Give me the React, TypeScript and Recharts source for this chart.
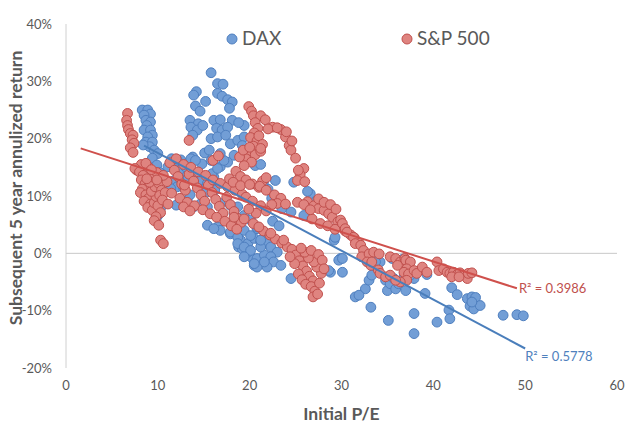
import React from "react";
import {
  ScatterChart,
  Scatter,
  XAxis,
  YAxis,
  ReferenceLine,
  ReferenceDot,
  Legend,
} from "recharts";

type Pt = [number, number];

const xTicks = [0, 10, 20, 30, 40, 50, 60];
const yTicks = [-20, -10, 0, 10, 20, 30, 40];

// DAX: initial P/E vs subsequent 5y return (%)
const daxLeft: Pt[] = [
  [8.3, 25.0], [8.9, 25.0], [9.2, 24.3], [8.5, 24.1], [8.7, 23.2], [9.2, 22.9], [8.8, 22.3],
  [8.5, 21.5], [9.2, 21.5], [9.4, 20.6], [8.9, 20.3], [8.7, 19.4], [9.4, 19.4], [9.1, 18.6],
  [9.6, 18.0], [10.0, 17.4], [8.4, 18.9], [9.4, 16.6], [9.9, 15.4], [10.2, 14.1], [10.0, 6.6],
  [9.8, 5.8], [9.8, 11.5], [10.1, 9.2], [10.3, 7.9],
];
const daxMid: Pt[] = [
  [11.1, 15.1], [11.8, 15.4], [12.5, 14.5], [13.2, 13.6], [11.8, 12.7], [12.1, 11.6], [13.9, 13.9],
  [14.7, 12.7], [15.4, 12.2], [16.1, 13.3], [16.8, 15.1], [17.6, 15.9], [11.4, 11.3], [12.0, 8.4],
  [13.2, 9.2], [13.9, 8.1], [14.7, 8.7], [11.5, 16.5], [12.5, 16.3], [13.0, 15.1], [13.3, 13.2],
  [12.8, 11.5], [13.5, 10.2], [14.6, 11.2], [15.2, 10.6], [15.7, 12.4], [16.2, 11.0], [15.9, 13.9],
  [16.5, 14.8], [14.8, 15.6], [13.8, 16.8], [15.1, 17.5], [12.1, 16.2], [13.6, 16.5], [14.1, 16.2],
  [15.8, 16.2], [17.2, 16.2], [16.8, 17.4], [15.6, 18.0],
];
const daxTop: Pt[] = [
  [15.8, 31.5], [16.5, 29.6], [17.1, 29.5], [14.2, 28.2], [13.9, 27.6], [15.2, 26.5], [16.5, 27.9],
  [17.0, 27.4], [17.6, 26.8], [18.1, 26.4], [14.1, 25.7], [14.6, 24.8], [17.8, 25.3], [13.5, 23.2],
  [14.4, 22.6], [13.6, 22.0], [14.3, 21.5], [14.9, 22.3], [16.1, 23.2], [16.8, 23.3], [18.1, 23.2],
  [16.4, 21.8], [17.0, 21.5], [17.6, 22.0], [15.8, 20.0], [16.5, 20.3], [17.4, 20.6], [19.4, 22.3],
  [17.9, 19.1], [18.7, 19.7], [19.4, 20.3], [19.2, 18.8], [18.3, 17.1], [13.8, 20.6], [19.6, 17.1],
  [20.6, 15.3], [21.2, 15.5], [20.4, 19.8], [18.8, 22.8],
];
const daxCore: Pt[] = [
  [15.4, 4.9], [16.5, 4.6], [16.8, 4.0], [17.9, 3.4], [18.7, 3.1], [19.0, 2.3], [19.8, 1.7],
  [20.5, 2.6], [21.2, 2.0], [21.9, 1.7], [22.3, 1.1], [23.0, 0.2], [20.1, -0.6], [20.8, -0.9],
  [21.6, -0.3], [22.3, -0.6], [22.6, -1.5], [23.4, -2.1], [20.5, -2.1], [21.9, -2.4], [19.4, 6.6],
  [19.0, 5.8], [20.1, 5.8], [20.8, 4.3], [21.7, 3.4], [18.3, 6.9], [18.8, 1.1], [19.2, 0.8],
  [21.2, 1.1], [19.8, 0.2], [20.8, -2.4], [16.8, 8.7], [17.9, 8.4], [18.7, 8.1], [17.9, 3.7],
  [18.7, 2.8], [19.4, 4.0], [20.1, 3.1], [20.8, 4.6], [21.6, 3.7], [18.7, 1.7], [19.4, 1.1],
  [20.1, 0.5], [19.4, -0.6], [20.5, -1.8], [21.6, -1.5], [21.2, 2.3], [15.4, 8.1], [16.1, 4.3],
  [22.4, 9.6], [23.1, 8.9], [23.5, 7.8], [22.0, 11.2], [21.5, 12.4], [22.8, 12.7], [22.5, 5.6],
  [23.2, 4.8],
];
const daxRight: Pt[] = [
  [24.5, 7.2], [25.9, 6.6], [26.6, 10.4], [24.8, 12.4], [26.3, 10.8], [27.2, 9.0], [27.9, 8.2],
  [29.2, 2.3], [29.3, 2.8], [29.9, -0.9], [28.8, -3.3], [30.1, -3.3], [24.5, -4.4], [29.7, -1.2],
  [28.6, -3.0], [32.6, -6.2], [31.5, -7.6], [31.9, -7.3], [33.2, -9.4], [33.0, -4.7], [33.3, -3.8],
  [35.0, -6.5], [34.8, -4.7], [35.3, -5.3], [35.9, -6.2], [36.2, -5.3], [37.0, -6.5], [35.7, -4.4],
  [36.8, -4.1], [37.9, -4.4], [37.5, -3.8], [39.1, -7.0], [39.3, -3.7], [35.1, -11.7], [37.9, -10.5],
  [37.9, -14.0], [40.4, -12.0], [41.7, -9.9], [41.8, -11.4], [42.0, -6.0], [42.6, -7.2], [43.7, -7.9],
  [44.2, -7.6], [44.6, -7.7], [44.0, -9.2], [44.4, -9.7], [45.1, -9.1], [44.2, -8.5], [47.6, -10.8],
  [49.1, -10.7], [49.8, -10.9], [34.2, -1.5], [33.7, -1.5], [35.5, -0.9], [36.7, -1.0], [30.1, -0.9],
];

// S&P 500
const spLeft: Pt[] = [
  [6.7, 24.4], [6.6, 23.2], [6.7, 22.3], [6.8, 21.6], [7.0, 20.9], [7.3, 20.6], [7.2, 19.8],
  [7.4, 19.2], [7.0, 18.4], [7.3, 17.6], [8.2, 15.5], [7.7, 14.5], [7.5, 14.8], [8.0, 14.2],
  [8.4, 13.6], [8.2, 12.8], [8.6, 12.1], [8.9, 11.5], [8.3, 11.2], [8.1, 10.6], [8.7, 10.2],
  [9.0, 9.6], [8.5, 9.1], [9.2, 8.6], [8.9, 8.0], [9.4, 7.5], [9.6, 8.8], [9.8, 9.9], [9.3, 10.8],
  [9.7, 11.6], [9.1, 12.4], [9.5, 13.3], [9.9, 14.1], [9.0, 15.0], [8.7, 15.7], [10.1, 12.2],
  [10.4, 11.0], [10.2, 10.1], [10.0, 8.3], [10.3, 7.1], [9.8, 6.4], [9.6, 5.7], [10.1, 4.9],
  [10.3, 2.3], [10.6, 1.7], [10.8, 10.6], [11.0, 12.5], [10.6, 13.6], [10.5, 9.3], [9.3, 14.6],
  [8.8, 13.0], [9.9, 12.8],
];
const spMid: Pt[] = [
  [11.3, 15.8], [11.8, 14.5], [12.2, 13.4], [12.6, 12.1], [13.0, 11.0], [13.4, 13.8], [13.9, 12.6],
  [14.3, 11.4], [14.7, 10.2], [15.1, 9.1], [15.5, 11.9], [15.9, 10.6], [16.3, 9.4], [16.7, 8.2],
  [17.1, 7.0], [17.5, 9.8], [17.9, 8.5], [18.3, 7.3], [18.7, 6.1], [19.1, 5.4], [12.0, 16.5],
  [12.8, 15.5], [13.6, 15.0], [14.4, 14.2], [15.2, 13.6], [16.0, 12.8], [16.8, 12.2], [17.6, 11.6],
  [18.4, 11.0], [19.2, 10.3], [11.5, 10.5], [12.4, 9.6], [13.2, 8.9], [14.0, 8.3], [16.0, 16.2],
  [16.6, 17.0], [13.4, 19.7], [12.9, 11.9], [11.1, 8.6], [14.9, 7.6], [15.7, 6.9], [16.4, 6.3],
  [17.3, 5.6], [18.0, 4.8], [18.6, 4.2], [12.8, 8.1], [13.5, 7.4],
];
const spPeak: Pt[] = [
  [19.9, 25.6], [20.2, 24.8], [20.4, 24.0], [21.2, 24.0], [21.7, 23.3], [20.6, 22.8], [20.9, 21.8],
  [20.5, 21.0], [20.1, 20.2], [20.8, 19.6], [20.4, 18.7], [19.9, 17.9], [20.6, 17.2], [19.6, 16.5],
  [20.2, 15.9], [19.4, 15.3], [18.9, 16.8], [18.5, 14.3], [19.0, 13.4], [17.8, 13.0], [18.2, 12.4],
  [19.6, 12.8], [20.3, 12.1], [21.0, 11.5], [21.4, 12.6], [21.8, 13.2], [21.0, 20.5], [21.4, 19.0],
  [21.2, 17.8], [22.5, 22.0], [23.4, 21.6], [23.9, 20.3], [24.3, 18.8], [24.5, 18.0], [25.0, 16.6],
  [25.9, 14.8], [25.5, 13.7], [25.2, 12.7], [26.0, 12.5], [22.0, 21.7], [24.6, 19.6], [25.3, 14.5],
  [19.3, 18.0], [20.0, 18.5], [21.2, 18.3], [23.0, 21.9], [24.0, 21.2],
];
const spBand: Pt[] = [
  [21.5, 3.9], [22.2, 3.2], [22.8, 2.5], [23.5, 1.8], [24.1, 1.1], [23.7, 2.3], [18.3, 6.3],
  [20.4, 5.2], [22.3, 3.5], [19.4, 6.0], [21.0, 4.6], [19.0, 11.8], [20.0, 12.0], [21.1, 11.7],
  [21.8, 11.0], [22.7, 10.2], [23.4, 9.6], [23.0, 8.7], [22.4, 8.5], [23.9, 8.6], [19.6, 9.8],
  [20.3, 9.1], [21.2, 8.3], [21.8, 7.4], [20.7, 7.0], [19.9, 7.7], [26.3, 9.0], [27.0, 8.3],
  [27.5, 7.8], [28.1, 7.5], [28.6, 6.9], [29.0, 6.3], [29.6, 5.5], [30.0, 4.6], [30.4, 3.9],
  [31.0, 3.2], [31.4, 2.7], [31.9, 1.8], [25.2, 8.9], [25.9, 8.5], [26.8, 6.0], [27.7, 5.2],
  [28.5, 4.8], [29.3, 4.2], [27.5, 9.5], [28.1, 8.9], [28.8, 8.5], [29.4, 7.7], [26.6, 7.6],
  [24.6, 0.7], [25.0, -0.3], [25.4, -1.3], [25.8, -2.2], [26.2, -3.1], [26.5, -4.0], [26.9, -4.8],
  [25.3, -3.6], [25.7, -4.6], [26.1, -5.4], [26.7, -5.8], [27.1, -6.6], [26.9, -7.6], [27.4, -7.1],
  [27.6, -5.2], [27.8, -3.5], [27.3, -2.4], [27.0, -1.5], [26.4, -0.8], [26.0, 0.2], [25.6, 0.9],
  [24.9, -1.8], [24.4, -0.6], [26.7, 0.5], [27.5, -0.2], [27.9, -1.2], [28.1, -2.7],
];
const spRight: Pt[] = [
  [29.9, 5.8], [30.1, 5.2], [30.4, 4.3], [30.6, 3.7], [31.3, 2.8], [31.5, 1.7], [32.1, 1.4],
  [32.4, 0.5], [32.2, -0.6], [33.0, -0.1], [33.5, 0.2], [34.1, -0.1], [32.8, -1.5], [33.2, -2.1],
  [33.3, -1.5], [34.0, -2.9], [34.2, -3.5], [34.8, -4.1], [35.3, -3.8], [35.3, -0.6], [35.9, -0.9],
  [36.4, -1.5], [36.1, -2.1], [36.9, -0.9], [37.0, -1.2], [37.5, -1.5], [37.1, -2.7], [36.8, -3.3],
  [37.3, -3.6], [37.9, -3.0], [38.2, -3.5], [38.8, -2.4], [39.3, -3.3], [37.1, -4.7], [36.4, -5.0],
  [35.9, -4.7], [40.4, -1.5], [40.6, -3.0], [41.1, -2.7], [41.5, -3.3], [41.8, -3.5], [42.2, -3.3],
  [42.6, -3.7], [42.9, -3.4], [43.3, -3.8], [43.7, -4.4], [43.8, -3.5], [44.2, -3.4], [42.0, -4.1],
  [42.8, -4.1],
];

// linear trendlines (end points) and their R²
const daxTrend: Pt[] = [[8.5, 18.8], [50, -16.6]];
const spTrend: Pt[] = [[1.6, 18.3], [49.1, -6.1]];
const daxR2 = "R\u00B2 = 0.5778";
const spR2 = "R\u00B2 = 0.3986";

const toPoints = (groups: Pt[][]) => groups.flat().map(([x, y]) => ({ x, y }));

const daxData = toPoints([daxLeft, daxMid, daxTop, daxCore, daxRight]);
const spData = toPoints([spLeft, spMid, spPeak, spBand, spRight]);

const BLUE = { fill: "#729ed6", stroke: "#4f7fbf", line: "#4a7ebb" };
const RED = { fill: "#df8480", stroke: "#c0504d", line: "#cf504c" };
const GREY = "#595959";
const FONT = "Lato, 'Liberation Sans', sans-serif";

const dot = (color: { fill: string; stroke: string }) => (props: any) =>
  props.cx == null ? null : (
    <circle cx={props.cx} cy={props.cy} r={4.9} fill={color.fill} stroke={color.stroke} strokeWidth={1} />
  );

const legendItems = [
  { name: "DAX", color: BLUE, left: 226 },
  { name: "S&P 500", color: RED, left: 401 },
];

const renderLegend = () => (
  <div style={{ position: "relative", height: 28, fontFamily: FONT, fontSize: 19, color: GREY }}>
    {legendItems.map((it) => (
      <div key={it.name} style={{ position: "absolute", left: it.left, top: 0, height: 28, lineHeight: "28px", whiteSpace: "nowrap" }}>
        <svg width={12} height={12} style={{ verticalAlign: "middle", marginRight: 4, marginTop: -3 }}>
          <circle cx={6} cy={6} r={5} fill={it.color.fill} stroke={it.color.stroke} />
        </svg>
        {it.name}
      </div>
    ))}
  </div>
);

const yTitle = () => {
  const cx = 15;
  const cy = 188;
  return (
    <text x={cx} y={cy} transform={`rotate(-90 ${cx} ${cy})`} textAnchor="middle" dominantBaseline="central"
      fill={GREY} fontWeight={700} fontSize={17.5} fontFamily={FONT}>
      Subsequent 5 year annulized return
    </text>
  );
};

export default function App() {
  return (
    <div style={{ position: "absolute", left: 0, top: 0, width: 640, height: 425, background: "#fff", fontFamily: FONT }}>
      <ScatterChart width={640} height={425} margin={{ top: 24, right: 23, bottom: 0, left: 0 }}>
        <XAxis
          type="number"
          dataKey="x"
          domain={[0, 60]}
          ticks={xTicks}
          axisLine={false}
          tickLine={false}
          tickMargin={7}
          height={57}
          tick={{ fill: GREY, fontSize: 13 }}
          label={{ value: "Initial P/E", position: "insideBottom", offset: 5, fill: GREY, fontSize: 17.5, fontWeight: 700 }}
        />
        <YAxis
          type="number"
          dataKey="y"
          domain={[-20, 40]}
          ticks={yTicks}
          width={66}
          tickFormatter={(v: number) => `${v}%`}
          axisLine={{ stroke: "#d0d0d0" }}
          tickLine={false}
          tickMargin={8}
          tick={{ fill: GREY, fontSize: 13 }}
          label={{ content: yTitle }}
        />
        <ReferenceLine y={0} stroke="#c8c8c8" />
        <Legend verticalAlign="middle" align="center" content={renderLegend} wrapperStyle={{ top: 24, left: 0, width: 640 }} />
        <Scatter name="DAX" data={daxData} isAnimationActive={false} shape={dot(BLUE)} />
        <Scatter name="S&P 500" data={spData} isAnimationActive={false} shape={dot(RED)} />
        <Scatter
          data={spTrend.map(([x, y]) => ({ x, y }))}
          isAnimationActive={false}
          line={{ stroke: RED.line, strokeWidth: 2 }}
          shape={() => null}
          legendType="none"
        />
        <Scatter
          data={daxTrend.map(([x, y]) => ({ x, y }))}
          isAnimationActive={false}
          line={{ stroke: BLUE.line, strokeWidth: 2 }}
          shape={() => null}
          legendType="none"
        />
        <ReferenceDot x={spTrend[1][0]} y={spTrend[1][1]} r={0} fill="none" stroke="none"
          label={{ value: spR2, position: "right", offset: 2, fill: RED.stroke, fontSize: 13 }} />
        <ReferenceDot x={daxTrend[1][0]} y={-18} r={0} fill="none" stroke="none"
          label={{ value: daxR2, position: "right", offset: 0, fill: "#4f81bd", fontSize: 13 }} />
      </ScatterChart>
    </div>
  );
}
